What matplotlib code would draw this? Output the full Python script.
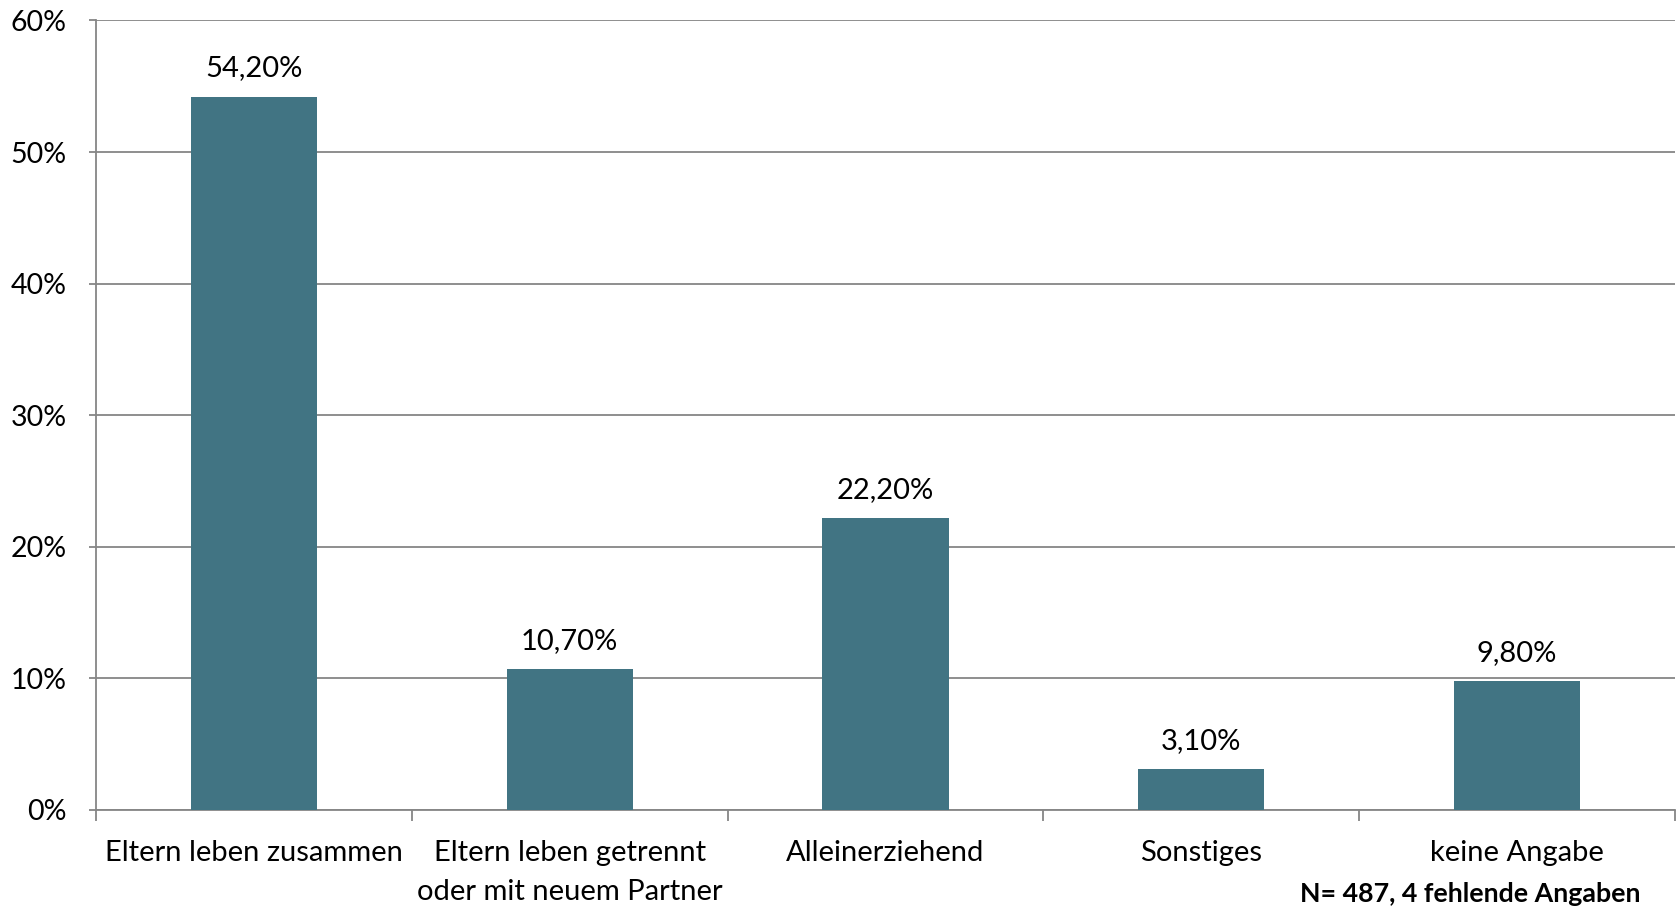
import matplotlib
matplotlib.use("Agg")
import matplotlib.pyplot as plt
import matplotlib.transforms as mtransforms
from matplotlib.ticker import FixedLocator

categories = ["Eltern leben zusammen", "Eltern leben getrennt\noder mit neuem Partner",
              "Alleinerziehend", "Sonstiges", "keine Angabe"]
values = [54.2, 10.7, 22.2, 3.1, 9.8]
value_labels = ["54,20%", "10,70%", "22,20%", "3,10%", "9,80%"]
y_ticks = [0, 10, 20, 30, 40, 50, 60]
y_tick_labels = ["0%", "10%", "20%", "30%", "40%", "50%", "60%"]
note = "N= 487, 4 fehlende Angaben"

plt.rcParams["font.family"] = ["Lato", "DejaVu Sans"]

bar_color = "#417483"
grid_color = "#868686"
fs = 21

fig = plt.figure(figsize=(16.78, 9.10), dpi=100)
ax = fig.add_axes([96 / 1678, 1 - 810 / 910, (1675 - 96) / 1678, (810 - 20.5) / 910])

x = list(range(len(categories)))
ax.bar(x, values, width=0.4, color=bar_color, zorder=3)

ax.set_xlim(-0.5, len(categories) - 0.5)
ax.set_ylim(0, 60)

ax.set_yticks(y_ticks)
ax.set_yticklabels(y_tick_labels, fontsize=20.5)
ax.yaxis.grid(True, color=grid_color, linewidth=1.3, zorder=0)
ax.tick_params(axis="y", length=5, width=1.3, color=grid_color, pad=16)

ax.xaxis.set_major_locator(FixedLocator([i - 0.5 for i in range(len(categories) + 1)]))
ax.set_xticklabels([])
ax.tick_params(axis="x", length=8, width=1.3, color=grid_color, direction="out")

for side in ["top", "right"]:
    ax.spines[side].set_visible(False)
for side in ["left", "bottom"]:
    ax.spines[side].set_color(grid_color)
    ax.spines[side].set_linewidth(1.3)

# category names below the axis
trans = mtransforms.blended_transform_factory(ax.transData, fig.transFigure)
for xi, name in zip(x, categories):
    ax.text(xi, 1 - 840 / 910, name, transform=trans, ha="center", va="top",
            fontsize=fs, linespacing=1.62)

# value labels above bars
for xi, v, lab in zip(x, values, value_labels):
    ax.annotate(lab, (xi, v), xytext=(0, 11), textcoords="offset points",
                ha="center", va="bottom", fontsize=fs)

fig.text(1641 / 1678, 1 - 894 / 910, note, ha="right", va="center",
         fontsize=19.3, fontweight="bold")

fig.savefig("out.png", dpi=100)
